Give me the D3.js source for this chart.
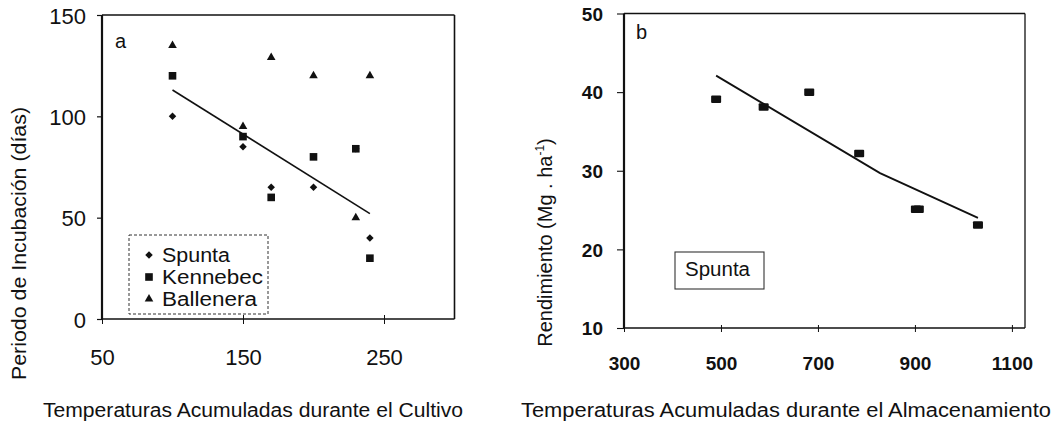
<!DOCTYPE html>
<html><head><meta charset="utf-8">
<script src="https://cdn.jsdelivr.net/npm/d3@7"></script>
<style>
body{margin:0;background:#fff}
svg{display:block}
text{font-family:"Liberation Sans",Arial,Helvetica,sans-serif;fill:#111}
</style>
</head><body>
<svg id="c" width="1053" height="423"></svg>
<script>
// ---------- Panel a data ----------
const cultivoTemps = [100, 150, 170, 200, 230, 240];
const spuntaDays = [100, 85, 65, 65, 84, 40];
const kennebecDays = [120, 90, 60, 80, 84, 30];
const balleneraDays = [135, 95, 129, 120, 50, 120];
const fitCultivoX = [100, 240];
const fitCultivoY = [113, 52];
const ticksAx = [50, 150, 250];
const ticksAy = [0, 50, 100, 150];
const legendA = ["Spunta", "Kennebec", "Ballenera"];

// ---------- Panel b data ----------
const almacTemps = [490, 588, 682, 785, 902, 908, 1030];
const rendimiento = [39.1, 38.1, 40.0, 32.2, 25.1, 25.1, 23.1];
const fitAlmacX = [490, 828, 1030];
const fitAlmacY = [42.1, 29.7, 24.0];
const ticksBx = [300, 500, 700, 900, 1100];
const ticksBy = [10, 20, 30, 40, 50];
const legendB = ["Spunta"];

const svg = d3.select("#c");
const ink = "#111";

// ================= PANEL A =================
const xA = d3.scaleLinear().domain([50, 300]).range([102, 454.5]);
const yA = d3.scaleLinear().domain([0, 150]).range([319, 15]);

// frame
const fa = svg.append("g");
fa.append("line").attr("x1", xA(50)).attr("x2", xA(300)).attr("y1", yA(150)).attr("y2", yA(150)).attr("stroke", ink).attr("stroke-width", 1.3);
fa.append("line").attr("x1", xA(300)).attr("x2", xA(300)).attr("y1", yA(150)).attr("y2", yA(0)).attr("stroke", ink).attr("stroke-width", 1.6);
fa.append("line").attr("x1", xA(50)).attr("x2", xA(300)).attr("y1", yA(0)).attr("y2", yA(0)).attr("stroke", ink).attr("stroke-width", 1.6);
fa.append("line").attr("x1", xA(50)).attr("x2", xA(50)).attr("y1", yA(150)).attr("y2", yA(0)).attr("stroke", ink).attr("stroke-width", 2.2);

// axes
const axAy = svg.append("g").attr("transform", `translate(${xA(50)},0)`)
  .call(d3.axisLeft(yA).tickValues(ticksAy).tickSize(5).tickSizeOuter(0).tickFormat(d3.format("d")));
axAy.select(".domain").remove();
axAy.selectAll("line").attr("stroke", ink).attr("stroke-width", 1.2);
axAy.selectAll("text").attr("x", -16).attr("dy", "0.37em")
  .style("font-size", "22px").style("font-family", '"Liberation Sans",Arial,sans-serif').attr("fill", ink);

const axAx = svg.append("g").attr("transform", `translate(0,${yA(0)})`)
  .call(d3.axisBottom(xA).tickValues(ticksAx).tickSize(5).tickSizeOuter(0).tickFormat(d3.format("d")));
axAx.select(".domain").remove();
axAx.selectAll("line").attr("y1", -4).attr("stroke", ink).attr("stroke-width", 1);
axAx.selectAll("text").attr("y", 46).attr("dy", 0)
  .style("font-size", "22px").style("font-family", '"Liberation Sans",Arial,sans-serif').attr("fill", ink);

// regression line
const fitA = fitCultivoX.map((x, i) => [x, fitCultivoY[i]]);
svg.append("path").datum(fitA)
  .attr("d", d3.line().x(d => xA(d[0])).y(d => yA(d[1])))
  .attr("fill", "none").attr("stroke", ink).attr("stroke-width", 1.6);

// markers
const diamond = d3.symbol().type(d3.symbolSquare).size(28)();
const square = d3.symbol().type(d3.symbolSquare).size(58)();
const tri = d3.symbol().type(d3.symbolTriangle).size(32)();

svg.append("g").selectAll("path").data(cultivoTemps.map((x, i) => [x, spuntaDays[i]]))
  .join("path").attr("d", diamond).attr("fill", ink)
  .attr("transform", d => `translate(${xA(d[0])},${yA(d[1])}) rotate(45)`);
svg.append("g").selectAll("path").data(cultivoTemps.map((x, i) => [x, kennebecDays[i]]))
  .join("path").attr("d", square).attr("fill", ink)
  .attr("transform", d => `translate(${xA(d[0])},${yA(d[1])})`);
svg.append("g").selectAll("path").data(cultivoTemps.map((x, i) => [x, balleneraDays[i]]))
  .join("path").attr("d", tri).attr("fill", ink)
  .attr("transform", d => `translate(${xA(d[0])},${yA(d[1])})`);

// legend a
const lg = svg.append("g");
lg.append("rect").attr("x", 129).attr("y", 235).attr("width", 139).attr("height", 79)
  .attr("fill", "#fff").attr("stroke", "#333").attr("stroke-width", 1).attr("stroke-dasharray", "3,2");
const legShapes = [diamond, square, tri];
const legRot = [45, 0, 0];
const legWidths = [68, 101, 95];
legendA.forEach((name, i) => {
  const cy = 255 + i * 22;
  lg.append("path").attr("d", legShapes[i]).attr("fill", ink)
    .attr("transform", `translate(149,${cy}) rotate(${legRot[i]})`);
  lg.append("text").attr("x", 162).attr("y", cy + 7).text(name)
    .style("font-size", "20px").attr("textLength", legWidths[i]).attr("lengthAdjust", "spacingAndGlyphs");
});

// labels a
svg.append("text").attr("x", 115).attr("y", 48).text("a").style("font-size", "20px");
svg.append("text").attr("x", 43).attr("y", 417).text("Temperaturas Acumuladas durante el Cultivo")
  .style("font-size", "20px").attr("textLength", 420).attr("lengthAdjust", "spacingAndGlyphs");
svg.append("text").attr("transform", "translate(26,243.5) rotate(-90)").attr("text-anchor", "middle")
  .text("Periodo de Incubación (días)")
  .style("font-size", "20px").attr("textLength", 273).attr("lengthAdjust", "spacingAndGlyphs");

// ================= PANEL B =================
const xB = d3.scaleLinear().domain([300, 1127]).range([624, 1025]);
const yB = d3.scaleLinear().domain([10, 50]).range([328, 13.5]);

const fb = svg.append("g");
fb.append("line").attr("x1", xB(300)).attr("x2", xB(1127)).attr("y1", yB(50)).attr("y2", yB(50)).attr("stroke", ink).attr("stroke-width", 1.3);
fb.append("line").attr("x1", xB(1127)).attr("x2", xB(1127)).attr("y1", yB(50)).attr("y2", yB(10)).attr("stroke", ink).attr("stroke-width", 1.3);
fb.append("line").attr("x1", xB(300)).attr("x2", xB(1127)).attr("y1", yB(10)).attr("y2", yB(10)).attr("stroke", ink).attr("stroke-width", 1.6);
fb.append("line").attr("x1", xB(300)).attr("x2", xB(300)).attr("y1", yB(50)).attr("y2", yB(10)).attr("stroke", ink).attr("stroke-width", 2.2);

const axBy = svg.append("g").attr("transform", `translate(${xB(300)},0)`)
  .call(d3.axisLeft(yB).tickValues(ticksBy).tickSize(7).tickSizeOuter(0).tickFormat(d3.format("d")));
axBy.select(".domain").remove();
axBy.selectAll("line").attr("stroke", ink).attr("stroke-width", 1.1);
axBy.selectAll("text").attr("x", -21).attr("dy", "0.36em")
  .style("font-size", "19px").style("font-weight", "bold").style("font-family", '"Liberation Sans",Arial,sans-serif').attr("fill", ink);

const axBx = svg.append("g").attr("transform", `translate(0,${yB(10)})`)
  .call(d3.axisBottom(xB).tickValues(ticksBx).tickSize(4).tickSizeOuter(0).tickFormat(d3.format("d")));
axBx.select(".domain").remove();
axBx.selectAll("line").attr("y1", -3).attr("stroke", ink).attr("stroke-width", 1);
axBx.selectAll("text").attr("y", 42).attr("dy", 0)
  .style("font-size", "19px").style("font-weight", "bold").style("font-family", '"Liberation Sans",Arial,sans-serif').attr("fill", ink);

// regression line b
const fitB = fitAlmacX.map((x, i) => [x, fitAlmacY[i]]);
svg.append("path").datum(fitB)
  .attr("d", d3.line().x(d => xB(d[0])).y(d => yB(d[1])))
  .attr("fill", "none").attr("stroke", ink).attr("stroke-width", 1.8);

// markers b
svg.append("g").selectAll("rect").data(almacTemps.map((x, i) => [x, rendimiento[i]]))
  .join("rect")
  .attr("x", d => xB(d[0]) - 5).attr("y", d => yB(d[1]) - 3.75)
  .attr("width", 10).attr("height", 7.5).attr("rx", 1).attr("fill", ink);

// legend b
svg.append("rect").attr("x", 675).attr("y", 252).attr("width", 89).attr("height", 37)
  .attr("fill", "#fff").attr("stroke", "#333").attr("stroke-width", 1.1);
svg.append("text").attr("x", 685).attr("y", 276).text(legendB[0])
  .style("font-size", "20px").attr("textLength", 65).attr("lengthAdjust", "spacingAndGlyphs");

// labels b
svg.append("text").attr("x", 636).attr("y", 39).text("b").style("font-size", "20px");
svg.append("text").attr("x", 521).attr("y", 417).text("Temperaturas Acumuladas durante el Almacenamiento")
  .style("font-size", "20px").attr("textLength", 530).attr("lengthAdjust", "spacingAndGlyphs");
const yt = svg.append("text").attr("transform", "translate(552,242.5) rotate(-90)").attr("text-anchor", "middle")
  .style("font-size", "20px");
yt.append("tspan").text("Rendimiento (Mg . ha");
yt.append("tspan").text("-1").attr("dy", -8).style("font-size", "12px");
yt.append("tspan").text(")").attr("dy", 8);
</script>
</body></html>
